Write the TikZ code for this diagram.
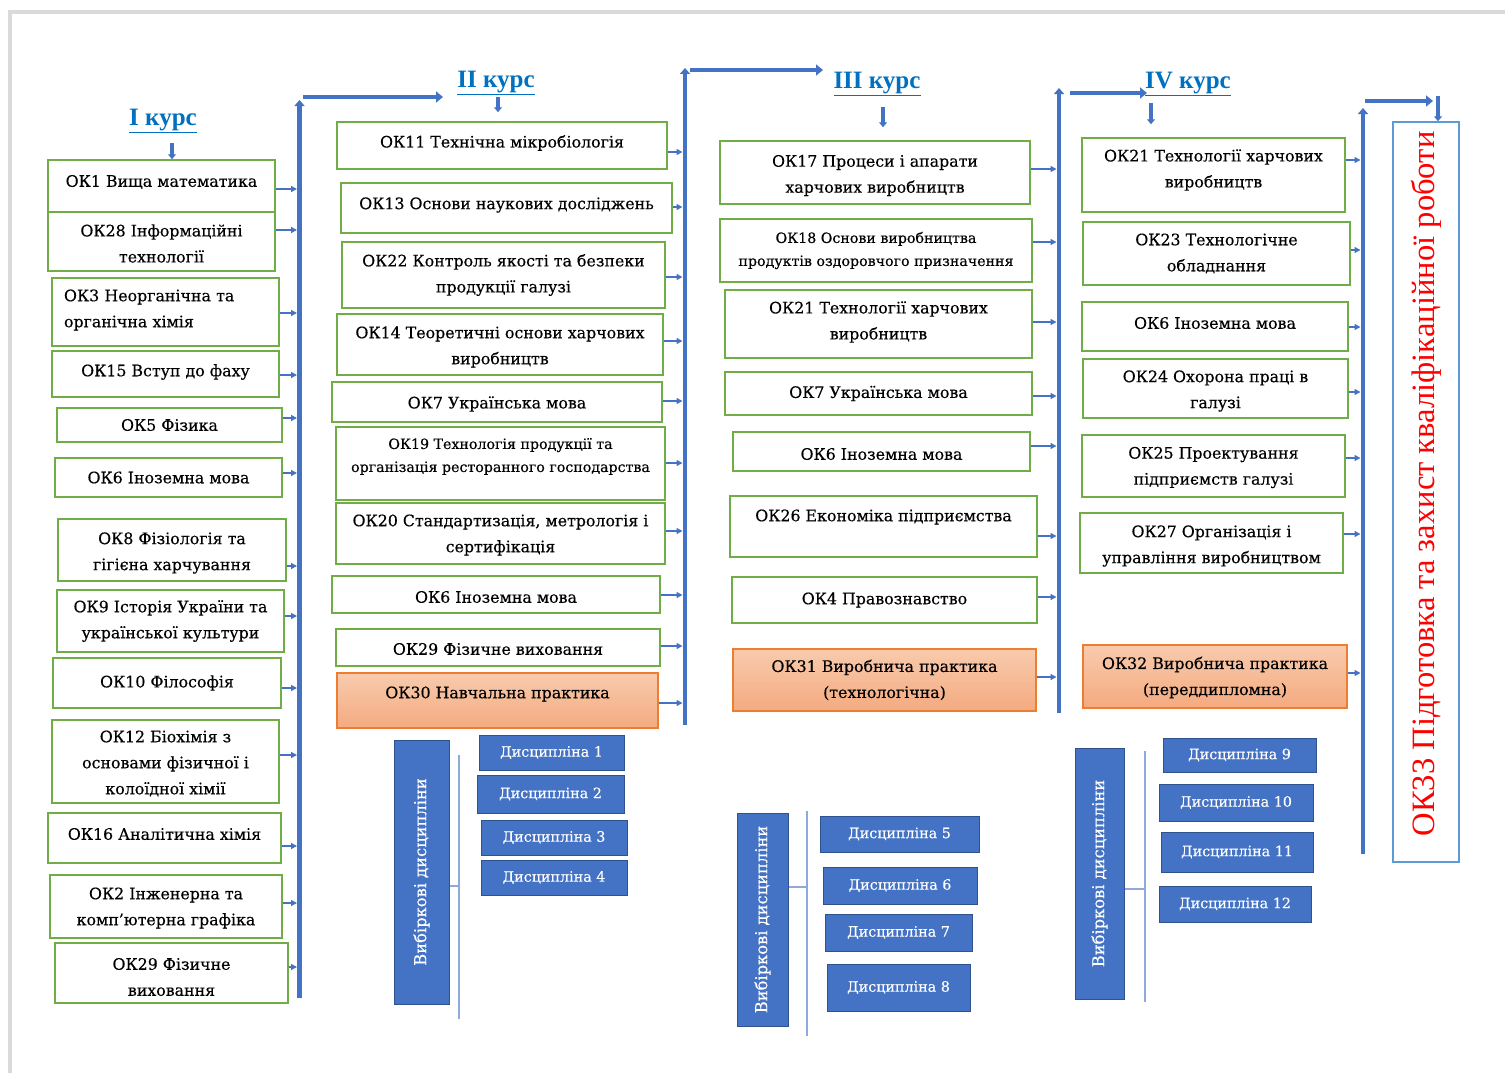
\documentclass[tikz,border=0pt]{standalone}
\usepackage{fontspec}
\setmainfont{Liberation Serif}
\newfontfamily\dvs[FakeBold=0.35]{DejaVu Serif}
\usetikzlibrary{arrows.meta}
\definecolor{gr}{HTML}{70AD47}
\definecolor{bl}{HTML}{4472C4}
\definecolor{bld}{HTML}{2F528F}
\definecolor{ttl}{HTML}{0070C0}
\definecolor{orb}{HTML}{ED7D31}
\definecolor{ort}{HTML}{F8CBAD}
\definecolor{orbt}{HTML}{F4AA80}
\definecolor{lbl}{HTML}{5B9BD5}
\definecolor{frm}{HTML}{DADADA}
\definecolor{lline}{HTML}{8EA9DB}
\newcommand\bfs{\dvs\fontsize{15.8}{26}\selectfont}
\newcommand\sfs{\dvs\fontsize{14.2}{23}\selectfont}
\newcommand\dfs{\dvs\fontsize{14.3}{18}\selectfont}
\newcommand\efs{\dvs\fontsize{16.3}{18}\selectfont}
\newcommand\tfs{\bfseries\fontsize{25}{30}\selectfont}
\newcommand\rfs{\fontsize{32.6}{36}\selectfont}
\tikzset{
  box/.style={draw=gr, line width=1.5pt, fill=white, inner sep=0, rectangle},
  obox/.style={draw=orb, line width=1.5pt, top color=ort, bottom color=orbt, inner sep=0, rectangle},
  dbox/.style={draw=bld, line width=1pt, fill=bl, inner sep=0, rectangle},
  qbox/.style={draw=lbl, line width=1.5pt, fill=white, inner sep=0, rectangle},
  txt/.style={align=center, inner sep=0, font=\bfs, text=black},
  ttlstyle/.style={inner sep=0, font=\tfs, text=ttl},
  arr/.style={draw=bl, line width=1.3pt, -{Triangle[length=6pt,width=6pt]}},
  barline/.style={draw=bl, line width=4.5pt, -{Triangle[length=6pt,width=10pt]}},
  harr/.style={draw=bl, line width=4.5pt, -{Triangle[length=7pt,width=11pt]}},
  varr/.style={draw=bl, line width=3.5pt, -{Triangle[length=5pt,width=8pt]}},
  eline/.style={draw=lline, line width=1.5pt},
  frame/.style={draw=frm, line width=4pt}
}
\newcommand\mkbox[8][box]{%
  \pgfmathsetmacro\bw{#5-#3}\pgfmathsetmacro\bh{#6-#4}%
  \node[#1, minimum width=\bw pt, minimum height=\bh pt] (#2) at ({(#3+#5)/2},{(#4+#6)/2}) {};
  \node[txt,#7] (#2-t) at (#2.center) {#8};}
\newcommand\conn[3]{\draw[arr] ([yshift=#3pt]#1.east) -- ([yshift=#3pt,xshift=-2.5pt]#1.east -| #2);}
\begin{document}
\begin{tikzpicture}[x=1pt,y=-1pt]
\useasboundingbox (0,0) rectangle (1505,1073);
\draw[frame] (10,1073) -- (10,12) -- (1505,12);

% titles
\node[ttlstyle] (t1) at (163,121) {\underline{I курс}};
\node[ttlstyle] (t2) at (496,83) {\underline{II курс}};
\node[ttlstyle] (t3) at (877,84) {\underline{III курс}};
\node[ttlstyle] (t4) at (1188,84) {\underline{IV курс}};

% bars
\coordinate (b1b) at (299.5,998); \coordinate (b1t) at (299.5,100);
\coordinate (b2b) at (685,725);   \coordinate (b2t) at (685,68);
\coordinate (b3b) at (1059,713);  \coordinate (b3t) at (1059,88);
\coordinate (b4b) at (1363,854);  \coordinate (b4t) at (1363,108);

% ---- column I
\mkbox{ok1}{48}{160}{275}{212}{yshift=4pt}{ОК1 Вища математика}
\mkbox{ok28}{48}{212}{275}{271}{yshift=-2pt}{ОК28 Інформаційні\\технології}
\mkbox{ok3}{52}{278}{279}{346}{yshift=2pt,align=left,text width=203pt}{ОК3 Неорганічна та\\органічна хімія}
\mkbox{ok15}{52}{351}{279}{397}{yshift=2pt}{ОК15 Вступ до фаху}
\mkbox{ok5}{57}{408}{282}{442}{}{ОК5 Фізика}
\mkbox{ok6a}{55}{458}{282}{497}{}{ОК6 Іноземна мова}
\mkbox{ok8}{58}{519}{286}{581}{yshift=-3pt}{ОК8 Фізіологія та\\гігієна харчування}
\mkbox{ok9}{57}{590}{284}{652}{}{ОК9 Історія України та\\української культури}
\mkbox{ok10}{53}{658}{281}{708}{}{ОК10 Філософія}
\mkbox{ok12}{52}{720}{279}{803}{yshift=-2pt}{ОК12 Біохімія з\\основами фізичної і\\колоїдної хімії}
\mkbox{ok16}{48}{813}{281}{863}{yshift=4pt}{ОК16 Аналітична хімія}
\mkbox{ok2}{50}{875}{282}{938}{yshift=-1.5pt}{ОК2 Інженерна та\\комп’ютерна графіка}
\mkbox{ok29a}{55}{943}{288}{1003}{yshift=-4pt}{ОК29 Фізичне\\виховання}

% ---- column II
\mkbox{ok11}{337}{122}{667}{169}{yshift=2.5pt}{ОК11 Технічна мікробіологія}
\mkbox{ok13}{341}{183}{672}{233}{yshift=3pt}{ОК13 Основи наукових досліджень}
\mkbox{ok22}{342}{242}{665}{308}{}{ОК22 Контроль якості та безпеки\\продукції галузі}
\mkbox{ok14}{337}{314}{663}{375}{yshift=-2.5pt}{ОК14 Теоретичні основи харчових\\виробництв}
\mkbox{ok7a}{332}{382}{662}{422}{yshift=-2pt}{ОК7 Українська мова}
\mkbox{ok19}{336}{427}{665}{500}{yshift=7pt,font=\sfs}{ОК19 Технологія продукції та\\організація ресторанного господарства}
\mkbox{ok20}{336}{503}{665}{564}{yshift=-1.5pt}{ОК20 Стандартизація, метрологія і\\сертифікація}
\mkbox{ok6b}{332}{576}{660}{613}{yshift=-2.5pt}{ОК6 Іноземна мова}
\mkbox{ok29b}{336}{629}{660}{666}{yshift=-1.5pt}{ОК29 Фізичне виховання}
\mkbox[obox]{ok30}{337}{673}{658}{728}{yshift=6.5pt}{ОК30 Навчальна практика}

% ---- column III
\mkbox{ok17}{720}{141}{1030}{204}{yshift=-3pt}{ОК17 Процеси і апарати\\харчових виробництв}
\mkbox{ok18}{720}{219}{1032}{282}{font=\sfs}{ОК18 Основи виробництва\\продуктів оздоровчого призначення}
\mkbox{ok21a}{725}{290}{1032}{358}{yshift=2pt}{ОК21 Технології харчових\\виробництв}
\mkbox{ok7b}{725}{372}{1032}{415}{}{ОК7 Українська мова}
\mkbox{ok6c}{733}{432}{1030}{471}{yshift=-2.5pt}{ОК6 Іноземна мова}
\mkbox{ok26}{730}{496}{1037}{557}{yshift=9.5pt}{ОК26 Економіка підприємства}
\mkbox{ok4}{732}{577}{1037}{623}{}{ОК4 Правознавство}
\mkbox[obox]{ok31}{733}{649}{1036}{711}{}{ОК31 Виробнича практика\\(технологічна)}

% ---- column IV
\mkbox{ok21b}{1082}{138}{1345}{212}{yshift=5pt}{ОК21 Технології харчових\\виробництв}
\mkbox{ok23}{1083}{222}{1350}{285}{}{ОК23 Технологічне\\обладнання}
\mkbox{ok6d}{1082}{302}{1348}{351}{yshift=3.5pt}{ОК6 Іноземна мова}
\mkbox{ok24}{1083}{359}{1348}{418}{yshift=-2.5pt}{ОК24 Охорона праці в\\галузі}
\mkbox{ok25}{1082}{435}{1345}{497}{yshift=-1.5pt}{ОК25 Проектування\\підприємств галузі}
\mkbox{ok27}{1080}{513}{1343}{573}{yshift=-3pt}{ОК27 Організація і\\управління виробництвом}
\mkbox[obox]{ok32}{1083}{645}{1347}{708}{yshift=-1pt}{ОК32 Виробнича практика\\(переддипломна)}

% ---- OK33
\mkbox[qbox]{ok33}{1393}{122}{1459}{862}{rotate=90,font=\rfs,text=red,xshift=8pt}{ОК33 Підготовка та захист кваліфікаційної роботи}

% ---- elective groups
\mkbox[dbox]{e2}{394}{740}{449}{1004}{rotate=90,font=\efs,text=white}{Вибіркові дисципліни}
\mkbox[dbox]{d1}{479}{735}{624}{770}{font=\dfs,text=white}{Дисципліна 1}
\mkbox[dbox]{d2}{477}{775}{624}{813}{font=\dfs,text=white}{Дисципліна 2}
\mkbox[dbox]{d3}{481}{820}{627}{855}{font=\dfs,text=white}{Дисципліна 3}
\mkbox[dbox]{d4}{481}{860}{627}{895}{font=\dfs,text=white}{Дисципліна 4}
\coordinate (l2t) at (459,755); \coordinate (l2b) at (459,1019);
\draw[eline] (l2t) -- (l2b);
\draw[eline] ([yshift=-14pt]e2.east) -- ([yshift=-14pt]e2.east -| l2t);

\mkbox[dbox]{e3}{737}{813}{788}{1026}{rotate=90,font=\efs,text=white}{Вибіркові дисципліни}
\mkbox[dbox]{d5}{820}{816}{979}{852}{font=\dfs,text=white}{Дисципліна 5}
\mkbox[dbox]{d6}{823}{867}{977}{904}{font=\dfs,text=white}{Дисципліна 6}
\mkbox[dbox]{d7}{825}{914}{972}{951}{font=\dfs,text=white}{Дисципліна 7}
\mkbox[dbox]{d8}{827}{964}{970}{1011}{font=\dfs,text=white}{Дисципліна 8}
\coordinate (l3t) at (807,811); \coordinate (l3b) at (807,1036);
\draw[eline] (l3t) -- (l3b);
\draw[eline] ([yshift=32.5pt]e3.east) -- ([yshift=32.5pt]e3.east -| l3t);

\mkbox[dbox]{e4}{1075}{748}{1124}{999}{rotate=90,font=\efs,text=white}{Вибіркові дисципліни}
\mkbox[dbox]{d9}{1163}{738}{1316}{772}{font=\dfs,text=white}{Дисципліна 9}
\mkbox[dbox]{d10}{1159}{784}{1313}{821}{font=\dfs,text=white}{Дисципліна 10}
\mkbox[dbox]{d11}{1161}{832}{1313}{872}{font=\dfs,text=white}{Дисципліна 11}
\mkbox[dbox]{d12}{1159}{886}{1311}{922}{font=\dfs,text=white}{Дисципліна 12}
\coordinate (l4t) at (1145,751); \coordinate (l4b) at (1145,1002);
\draw[eline] (l4t) -- (l4b);
\draw[eline] ([yshift=-15.5pt]e4.east) -- ([yshift=-15.5pt]e4.east -| l4t);

% ---- small arrows into bars
\conn{ok1}{b1t}{-3} \conn{ok28}{b1t}{11.5} \conn{ok3}{b1t}{-1} \conn{ok15}{b1t}{-1}
\conn{ok5}{b1t}{7} \conn{ok6a}{b1t}{4.5} \conn{ok8}{b1t}{-16} \conn{ok9}{b1t}{5}
\conn{ok10}{b1t}{-5} \conn{ok12}{b1t}{6.5} \conn{ok16}{b1t}{-8} \conn{ok2}{b1t}{3.5}
\conn{ok29a}{b1t}{6}
\conn{ok11}{b2t}{-6.5} \conn{ok13}{b2t}{1} \conn{ok22}{b2t}{-2} \conn{ok14}{b2t}{3.5}
\conn{ok7a}{b2t}{1} \conn{ok19}{b2t}{0.5} \conn{ok20}{b2t}{2.5} \conn{ok6b}{b2t}{-0.5}
\conn{ok29b}{b2t}{1.5} \conn{ok30}{b2t}{-2.5}
\conn{ok17}{b3t}{3.5} \conn{ok18}{b3t}{8.5} \conn{ok21a}{b3t}{2} \conn{ok7b}{b3t}{-2.5}
\conn{ok6c}{b3t}{5.5} \conn{ok26}{b3t}{-9.5} \conn{ok4}{b3t}{3} \conn{ok31}{b3t}{3}
\conn{ok21b}{b4t}{15} \conn{ok23}{b4t}{3.5} \conn{ok6d}{b4t}{-0.5} \conn{ok24}{b4t}{-3.5}
\conn{ok25}{b4t}{8} \conn{ok27}{b4t}{9} \conn{ok32}{b4t}{3.5}

% ---- bars
\draw[barline] (b1b) -- (b1t);
\draw[barline] (b2b) -- (b2t);
\draw[barline] (b3b) -- (b3t);
\draw[barline] (b4b) -- (b4t);

% ---- top connectors
\coordinate (h1s) at (303,97);  \coordinate (h1e) at (443,97);
\coordinate (h2s) at (690,70);  \coordinate (h2e) at (823,70);
\coordinate (h3s) at (1070,93); \coordinate (h3e) at (1147,93);
\coordinate (h4s) at (1365,101);\coordinate (h4e) at (1433,101);
\draw[harr] (h1s) -- (h1e);
\draw[harr] (h2s) -- (h2e);
\draw[harr] (h3s) -- (h3e);
\draw[harr] (h4s) -- (h4e);

\coordinate (v1s) at (172,143);
\coordinate (v2s) at (498,97);
\coordinate (v3s) at (883,107);
\coordinate (v4s) at (1151,103);
\coordinate (v5s) at (1438,96);
\draw[varr] (v1s) -- (v1s |- ok1.north);
\draw[varr] (v2s) -- ([yshift=9pt]v2s |- ok11.north);
\draw[varr] (v3s) -- ([yshift=13pt]v3s |- ok17.north);
\draw[varr] (v4s) -- ([yshift=13pt]v4s |- ok21b.north);
\draw[varr] (v5s) -- (v5s |- ok33.north);
\end{tikzpicture}
\end{document}
